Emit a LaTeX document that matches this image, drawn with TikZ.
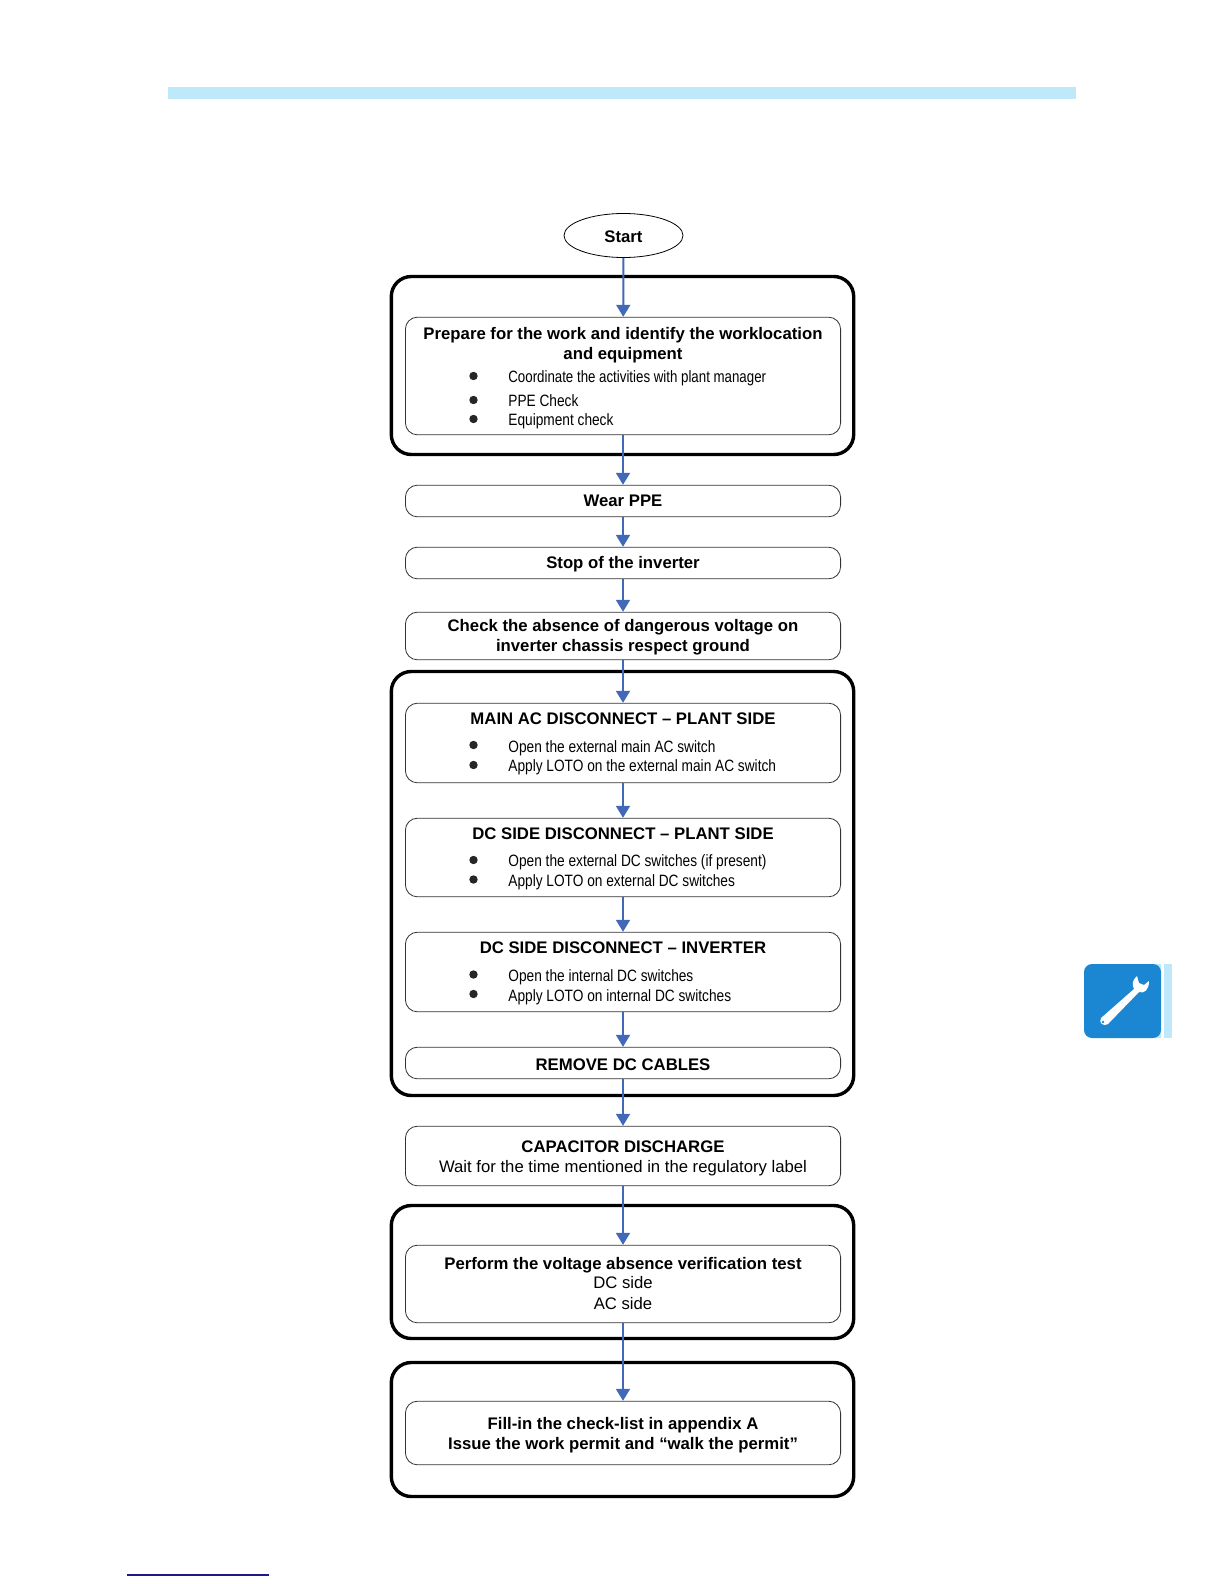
\documentclass[tikz,border=0pt]{standalone}
\usepackage{fontspec}
\setmainfont{Liberation Sans}
\newfontfamily\narrowfont[FakeStretch=0.835]{Liberation Sans}
\newfontfamily\tightfont[FakeStretch=0.81]{Liberation Sans}
\usetikzlibrary{arrows.meta,shapes.geometric}
\definecolor{flowblue}{HTML}{4169B8}
\definecolor{stripblue}{HTML}{BEE9FA}
\definecolor{iconblue}{HTML}{1B87D3}
\definecolor{footblue}{HTML}{1A1A8C}
\tikzset{
  outerbox/.style={draw=black,line width=1.7pt,rounded corners=10pt,minimum width=231.2pt},
  innerbox/.style={draw=black!80,line width=0.4pt,rounded corners=6pt,minimum width=217.6pt,inner sep=0pt,
    align=center,font=\fontsize{8.37}{10}\selectfont\bfseries},
  heading/.style={align=center,inner sep=0pt,font=\fontsize{8.37}{10}\selectfont\bfseries},
  itemtext/.style={anchor=west,inner sep=0pt,font=\fontsize{8.2}{10}\selectfont\narrowfont},
  dotmark/.style={circle,fill=black!85,inner sep=0pt,minimum size=4.2pt},
  flow/.style={draw=flowblue,line width=1pt,-{Triangle[length=6pt,width=7pt,fill=flowblue]}}
}
\newcommand{\plainpart}[1]{{\fontsize{8.35}{10}\selectfont\mdseries #1}}
\begin{document}
\begin{tikzpicture}[x=0.5pt,y=-0.5pt]
\useasboundingbox (0,0) rectangle (1224,1584);
% page furniture
\fill[stripblue] (168,87) rectangle (1076,99);
\fill[stripblue] (1150,964) rectangle (1172,1038);
\fill[white] (1161,960) rectangle (1164,1042);
\fill[iconblue,rounded corners=4pt] (1084,964) rectangle (1161,1038);
\fill[white] (1137,976) .. controls (1132,980) and (1132,985) .. (1134,989) -- (1101,1018)
  .. controls (1098,1023) and (1104,1027) .. (1108,1024) -- (1139,992)
  .. controls (1144,994) and (1149,990) .. (1149,981) -- (1144,985) -- (1139,983) -- cycle;
\fill[iconblue] (1103,1022) circle (1.4);
\draw[footblue,line width=0.7pt] (127,1575) -- (269,1575);
% outer frames
\node[outerbox,minimum height=89pt] (groupA) at (622.5,365.5) {};
\node[outerbox,minimum height=212pt] (groupB) at (622.5,883.5) {};
\node[outerbox,minimum height=66.5pt] (groupC) at (622.5,1272) {};
\node[outerbox,minimum height=67pt] (groupD) at (622.5,1429.5) {};
% boxes
\node[draw,ellipse,line width=0.4pt,minimum width=59.5pt,minimum height=22pt,inner sep=0pt] (start) at (623.5,235.5) {};
\node[innerbox,minimum height=58.8pt] (prep) at (623,376) {};
\node[innerbox,minimum height=15.8pt] (wear) at (623,501) {Wear PPE};
\node[innerbox,minimum height=15.8pt] (stop) at (623,563) {};
\node[innerbox,minimum height=23.8pt] (check) at (623,636) {};
\node[innerbox,minimum height=39.8pt] (mainac) at (623,743) {};
\node[innerbox,minimum height=39.3pt] (dcplant) at (623,857.5) {};
\node[innerbox,minimum height=39.8pt] (dcinv) at (623,972) {};
\node[innerbox,minimum height=15.8pt] (cables) at (623,1063) {};
\node[innerbox,minimum height=29.8pt] (caps) at (623,1156) {};
\node[innerbox,minimum height=38.8pt] (verify) at (623,1284) {};
\node[innerbox,minimum height=31.8pt] (permit) at (623,1433) {};
% texts set on the boxes
\node[heading] (starthead) at (623.5,236.5) {Start};
\node[heading] (prephead) at (623,345) {Prepare for the work and identify the worklocation\\and equipment};
\node[heading] (stophead) at (623,564) {Stop of the inverter};
\node[heading] (checkhead) at (623,637) {Check the absence of dangerous voltage on\\inverter chassis respect ground};
\node[heading] (mainhead) at (623,718.5) {MAIN AC DISCONNECT – PLANT SIDE};
\node[heading] (planthead) at (623,834) {DC SIDE DISCONNECT – PLANT SIDE};
\node[heading] (invhead) at (623,947.5) {DC SIDE DISCONNECT – INVERTER};
\node[heading] (cablehead) at (623,1064.5) {REMOVE DC CABLES};
\node[heading] (capshead) at (623,1158.5) {CAPACITOR DISCHARGE\\\plainpart{Wait for the time mentioned in the regulatory label}};
\node[heading] (verifyhead) at (623,1283) {Perform the voltage absence verification test\\\plainpart{DC side}\\\plainpart{AC side}};
\node[heading] (permithead) at (623,1435) {Fill-in the check-list in appendix A\\Issue the work permit and “walk the permit”};
\node[dotmark] (dotA) at (473.5,376) {};
\node[dotmark] (dotB) at (473.5,400) {};
\node[dotmark] (dotC) at (473.5,419) {};
\node[itemtext,font=\fontsize{8.2}{10}\selectfont\tightfont] (itemA) at (508,378.5) {Coordinate the activities with plant manager};
\node[itemtext] (itemB) at (508,401) {PPE Check};
\node[itemtext] (itemC) at (508,421.5) {Equipment check};
\node[dotmark] (dotD) at (473.5,745) {};
\node[dotmark] (dotE) at (473.5,765) {};
\node[itemtext] (itemD) at (508,748) {Open the external main AC switch};
\node[itemtext] (itemE) at (508,767) {Apply LOTO on the external main AC switch};
\node[dotmark] (dotF) at (473.5,860) {};
\node[dotmark] (dotG) at (473.5,879.5) {};
\node[itemtext] (itemF) at (508,862) {Open the external DC switches (if present)};
\node[itemtext] (itemG) at (508,882) {Apply LOTO on external DC switches};
\node[dotmark] (dotH) at (473.5,974.5) {};
\node[dotmark] (dotI) at (473.5,994) {};
\node[itemtext] (itemH) at (508,977) {Open the internal DC switches};
\node[itemtext] (itemI) at (508,997) {Apply LOTO on internal DC switches};
% connectors
\draw[flow] (start) -- (prep);
\draw[flow] (prep) -- (wear);
\draw[flow] (wear) -- (stop);
\draw[flow] (stop) -- (check);
\draw[flow] (check) -- (mainac);
\draw[flow] (mainac) -- (dcplant);
\draw[flow] (dcplant) -- (dcinv);
\draw[flow] (dcinv) -- (cables);
\draw[flow] (cables) -- (caps);
\draw[flow] (caps) -- (verify);
\draw[flow] (verify) -- (permit);
\end{tikzpicture}
\end{document}
